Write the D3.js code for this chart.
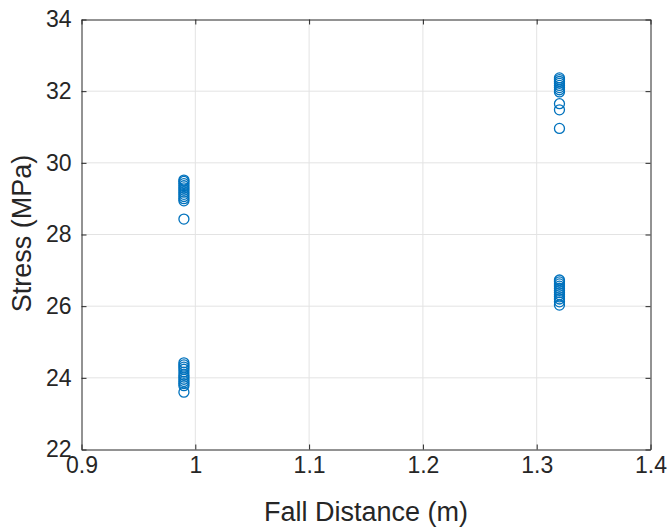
<!DOCTYPE html>
<html><head><meta charset="utf-8">
<script src="https://cdn.jsdelivr.net/npm/d3@7"></script>
<style>body{margin:0;background:#fff;} svg{display:block;}</style>
</head><body>
<svg id="c" width="671" height="531"></svg>
<script>
const xTicks = [0.9, 1.0, 1.1, 1.2, 1.3, 1.4];
const xTickLabels = ["0.9", "1", "1.1", "1.2", "1.3", "1.4"];
const yTicks = [22, 24, 26, 28, 30, 32, 34];
const fallDistanceA = 0.99;
const stressA = [29.52, 29.48, 29.42, 29.36, 29.3, 29.24, 29.18, 29.12, 29.06, 29.0, 28.94, 28.43,
                 24.42, 24.36, 24.3, 24.24, 24.16, 24.08, 24.02, 23.96, 23.9, 23.84, 23.78, 23.6];
const fallDistanceB = 1.32;
const stressB = [32.37, 32.32, 32.27, 32.22, 32.16, 32.1, 32.04, 31.98, 31.65, 31.48, 30.96,
                 26.73, 26.68, 26.62, 26.56, 26.5, 26.44, 26.38, 26.32, 26.26, 26.2, 26.12, 26.03];

const svg = d3.select("#c");
const L = 81.5, R = 650.5, T = 19.5, B = 449.5;
const x = d3.scaleLinear().domain([0.9, 1.4]).range([L, R]);
const y = d3.scaleLinear().domain([22, 34]).range([B, T]);
const font = "'Liberation Sans', Arial, Helvetica, sans-serif";
const tc = "#262626";

// grid
svg.append("g").selectAll("line").data(xTicks.slice(1, -1)).join("line")
  .attr("x1", d => x(d)).attr("x2", d => x(d)).attr("y1", T).attr("y2", B)
  .attr("stroke", "#e3e3e3").attr("stroke-width", 1);
svg.append("g").selectAll("line").data(yTicks.slice(1, -1)).join("line")
  .attr("y1", d => y(d)).attr("y2", d => y(d)).attr("x1", L).attr("x2", R)
  .attr("stroke", "#e3e3e3").attr("stroke-width", 1);

// axes
const xAxis = d3.axisBottom(x).tickValues(xTicks).tickFormat((d, i) => xTickLabels[i]).tickSizeInner(-5).tickSizeOuter(0).tickPadding(7);
const xAxisTop = d3.axisTop(x).tickValues(xTicks).tickFormat("").tickSizeInner(-5).tickSizeOuter(0);
const yAxis = d3.axisLeft(y).tickValues(yTicks).tickSizeInner(-5).tickSizeOuter(0).tickPadding(10);
const yAxisRight = d3.axisRight(y).tickValues(yTicks).tickFormat("").tickSizeInner(-5).tickSizeOuter(0);

function style(g) {
  g.selectAll("path").attr("stroke", tc).attr("stroke-width", 1);
  g.selectAll("line").attr("stroke", tc).attr("stroke-width", 1);
  g.selectAll("text").attr("fill", tc).style("font-family", font).style("font-size", "23px");
}
svg.append("g").attr("transform", `translate(0,${B})`).call(xAxis).call(style);
svg.append("g").attr("transform", `translate(0,${T})`).call(xAxisTop).call(style);
svg.append("g").attr("transform", `translate(${L},0)`).call(yAxis).call(style);
svg.append("g").attr("transform", `translate(${R},0)`).call(yAxisRight).call(style);

// points
const pts = stressA.map(v => [fallDistanceA, v]).concat(stressB.map(v => [fallDistanceB, v]));
svg.append("g").selectAll("circle").data(pts).join("circle")
  .attr("cx", d => x(d[0])).attr("cy", d => y(d[1])).attr("r", 5)
  .attr("fill", "none").attr("stroke", "#0072BD").attr("stroke-width", 1.3);

// labels
svg.append("text").attr("x", (L + R) / 2).attr("y", 521).attr("text-anchor", "middle")
  .attr("fill", tc).style("font-family", font).style("font-size", "27px").text("Fall Distance (m)");
svg.append("text").attr("transform", `translate(31,${(T + B) / 2 - 1}) rotate(-90)`).attr("text-anchor", "middle")
  .attr("fill", tc).style("font-family", font).style("font-size", "27px").text("Stress (MPa)");
</script>
</body></html>
